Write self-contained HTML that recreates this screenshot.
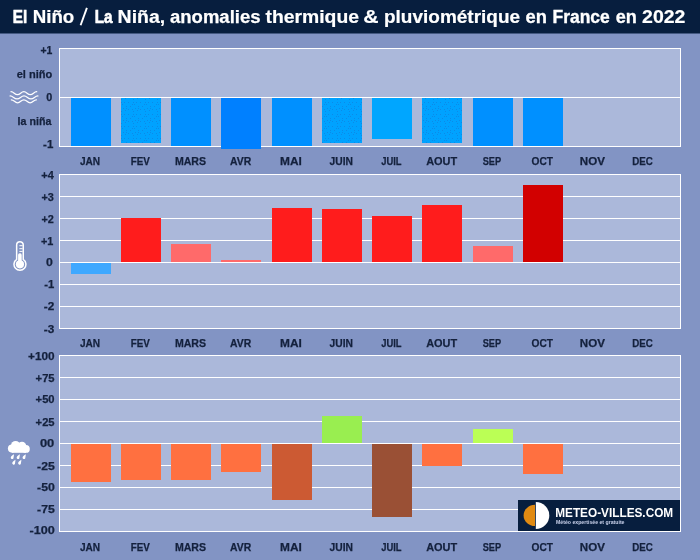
<!DOCTYPE html><html><head><meta charset="utf-8"><title>El Niño / La Niña 2022</title>
<style>html,body{margin:0;padding:0;background:#8294c4;}svg{display:block;will-change:transform;}text{font-family:"Liberation Sans", sans-serif;font-weight:bold;}.l{stroke:#14213d;stroke-width:0.25px;}</style></head><body>
<svg width="700" height="560" viewBox="0 0 700 560">
<defs><pattern id="dots" width="12" height="12" patternUnits="userSpaceOnUse"><rect width="12" height="12" fill="#00a2ff"/><rect x="5" y="2" width="1" height="1" fill="#0c8ae8"/><rect x="6" y="10" width="1" height="1" fill="#0c8ae8"/><rect x="0" y="1" width="1" height="1" fill="#0c8ae8"/><rect x="8" y="1" width="1" height="1" fill="#0c8ae8"/><rect x="0" y="8" width="1" height="1" fill="#0c8ae8"/><rect x="3" y="0" width="1" height="1" fill="#0c8ae8"/><rect x="1" y="6" width="1" height="1" fill="#0c8ae8"/><rect x="8" y="6" width="1" height="1" fill="#0c8ae8"/><rect x="1" y="3" width="1" height="1" fill="#0c8ae8"/><rect x="10" y="10" width="1" height="1" fill="#0c8ae8"/><rect x="6" y="0" width="1" height="1" fill="#0c8ae8"/><rect x="4" y="6" width="1" height="1" fill="#0c8ae8"/><rect x="2" y="8" width="1" height="1" fill="#0c8ae8"/></pattern></defs>
<rect width="700" height="560" fill="#8294c4"/>
<rect x="0" y="0" width="700" height="33.5" fill="#071e3e"/>
<line x1="80.6" y1="25.3" x2="86.9" y2="7.9" stroke="#fff" stroke-width="1.9"/>
<text x="12.80" y="22.7" font-size="18.9" fill="#fff" stroke="#fff" stroke-width="0.66" textLength="14.40" lengthAdjust="spacingAndGlyphs">El</text>
<text x="32.70" y="22.7" font-size="18.9" fill="#fff" stroke="#fff" stroke-width="0.22" textLength="41.58" lengthAdjust="spacingAndGlyphs">Niño</text>
<text x="94.69" y="22.7" font-size="18.9" fill="#fff" stroke="#fff" stroke-width="0.67" textLength="17.78" lengthAdjust="spacingAndGlyphs">La</text>
<text x="117.61" y="22.7" font-size="18.9" fill="#fff" stroke="#fff" stroke-width="0.20" textLength="47.52" lengthAdjust="spacingAndGlyphs">Niña,</text>
<text x="170.00" y="22.7" font-size="18.9" fill="#fff" stroke="#fff" stroke-width="0.25" textLength="90.51" lengthAdjust="spacingAndGlyphs">anomalies</text>
<text x="265.49" y="22.7" font-size="18.9" fill="#fff" stroke="#fff" stroke-width="0.20" textLength="93.52" lengthAdjust="spacingAndGlyphs">thermique</text>
<text x="363.21" y="22.7" font-size="18.9" fill="#fff" stroke="#fff" stroke-width="0.20" textLength="15.34" lengthAdjust="spacingAndGlyphs">&amp;</text>
<text x="383.98" y="22.7" font-size="18.9" fill="#fff" stroke="#fff" stroke-width="0.20" textLength="136.13" lengthAdjust="spacingAndGlyphs">pluviométrique</text>
<text x="525.48" y="22.7" font-size="18.9" fill="#fff" stroke="#fff" stroke-width="0.27" textLength="21.40" lengthAdjust="spacingAndGlyphs">en</text>
<text x="552.47" y="22.7" font-size="18.9" fill="#fff" stroke="#fff" stroke-width="0.38" textLength="57.30" lengthAdjust="spacingAndGlyphs">France</text>
<text x="615.70" y="22.7" font-size="18.9" fill="#fff" stroke="#fff" stroke-width="0.30" textLength="21.11" lengthAdjust="spacingAndGlyphs">en</text>
<text x="642.08" y="22.7" font-size="18.9" fill="#fff" stroke="#fff" stroke-width="0.20" textLength="43.33" lengthAdjust="spacingAndGlyphs">2022</text>
<rect x="59.5" y="48.5" width="621" height="98.0" fill="#abb8da" stroke="#fff" stroke-width="1"/>
<rect x="60" y="97" width="620" height="1" fill="#fff"/>
<rect x="71" y="98" width="40" height="48" fill="#0090ff"/>
<rect x="121" y="98" width="40" height="45" fill="url(#dots)"/>
<rect x="171" y="98" width="40" height="48" fill="#0090ff"/>
<rect x="221" y="98" width="40" height="51" fill="#0080ff"/>
<rect x="272" y="98" width="40" height="48" fill="#0090ff"/>
<rect x="322" y="98" width="40" height="45" fill="url(#dots)"/>
<rect x="372" y="98" width="40" height="41" fill="#00a6ff"/>
<rect x="422" y="98" width="40" height="45" fill="url(#dots)"/>
<rect x="473" y="98" width="40" height="48" fill="#0090ff"/>
<rect x="523" y="98" width="40" height="48" fill="#0090ff"/>
<text class="l" x="90.0" y="164.8" font-size="11" fill="#14213d" text-anchor="middle" textLength="20.2" lengthAdjust="spacingAndGlyphs">JAN</text>
<text class="l" x="140.2" y="164.8" font-size="11" fill="#14213d" text-anchor="middle" textLength="19.1" lengthAdjust="spacingAndGlyphs">FEV</text>
<text class="l" x="190.5" y="164.8" font-size="11" fill="#14213d" text-anchor="middle" textLength="31.2" lengthAdjust="spacingAndGlyphs">MARS</text>
<text class="l" x="240.7" y="164.8" font-size="11" fill="#14213d" text-anchor="middle" textLength="21.2" lengthAdjust="spacingAndGlyphs">AVR</text>
<text class="l" x="291.0" y="164.8" font-size="11" fill="#14213d" text-anchor="middle" textLength="21.8" lengthAdjust="spacingAndGlyphs">MAI</text>
<text class="l" x="341.2" y="164.8" font-size="11" fill="#14213d" text-anchor="middle" textLength="23.4" lengthAdjust="spacingAndGlyphs">JUIN</text>
<text class="l" x="391.4" y="164.8" font-size="11" fill="#14213d" text-anchor="middle" textLength="20.4" lengthAdjust="spacingAndGlyphs">JUIL</text>
<text class="l" x="441.7" y="164.8" font-size="11" fill="#14213d" text-anchor="middle" textLength="31.0" lengthAdjust="spacingAndGlyphs">AOUT</text>
<text class="l" x="491.9" y="164.8" font-size="11" fill="#14213d" text-anchor="middle" textLength="18.4" lengthAdjust="spacingAndGlyphs">SEP</text>
<text class="l" x="542.2" y="164.8" font-size="11" fill="#14213d" text-anchor="middle" textLength="21.4" lengthAdjust="spacingAndGlyphs">OCT</text>
<text class="l" x="592.4" y="164.8" font-size="11" fill="#14213d" text-anchor="middle" textLength="25.1" lengthAdjust="spacingAndGlyphs">NOV</text>
<text class="l" x="642.6" y="164.8" font-size="11" fill="#14213d" text-anchor="middle" textLength="20.6" lengthAdjust="spacingAndGlyphs">DEC</text>
<text class="l" x="52.3" y="53.7" font-size="11" fill="#14213d" text-anchor="end" textLength="11.9" lengthAdjust="spacingAndGlyphs">+1</text>
<text class="l" x="52.3" y="77.7" font-size="11" fill="#14213d" text-anchor="end" textLength="35.6" lengthAdjust="spacingAndGlyphs">el niño</text>
<text class="l" x="52.3" y="101.0" font-size="11" fill="#14213d" text-anchor="end" textLength="6.0" lengthAdjust="spacingAndGlyphs">0</text>
<text class="l" x="51.4" y="125.1" font-size="11" fill="#14213d" text-anchor="end" textLength="33.8" lengthAdjust="spacingAndGlyphs">la niña</text>
<text class="l" x="53.3" y="148.0" font-size="11" fill="#14213d" text-anchor="end" textLength="10.2" lengthAdjust="spacingAndGlyphs">-1</text>
<rect x="59.5" y="174.5" width="621" height="154.0" fill="#abb8da" stroke="#fff" stroke-width="1"/>
<rect x="60" y="196" width="620" height="1" fill="#fff"/>
<rect x="60" y="218" width="620" height="1" fill="#fff"/>
<rect x="60" y="240" width="620" height="1" fill="#fff"/>
<rect x="60" y="262" width="620" height="1" fill="#fff"/>
<rect x="60" y="284" width="620" height="1" fill="#fff"/>
<rect x="60" y="306" width="620" height="1" fill="#fff"/>
<rect x="71" y="263" width="40" height="11" fill="#3ea8ff"/>
<rect x="121" y="218" width="40" height="44" fill="#ff1c1c"/>
<rect x="171" y="244" width="40" height="18" fill="#ff6a6a"/>
<rect x="221" y="260" width="40" height="2" fill="#ff6a6a"/>
<rect x="272" y="208" width="40" height="54" fill="#ff1c1c"/>
<rect x="322" y="209" width="40" height="53" fill="#ff1c1c"/>
<rect x="372" y="216" width="40" height="46" fill="#ff1c1c"/>
<rect x="422" y="205" width="40" height="57" fill="#ff1c1c"/>
<rect x="473" y="246" width="40" height="16" fill="#ff6a6a"/>
<rect x="523" y="185" width="40" height="77" fill="#d20000"/>
<text class="l" x="90.0" y="346.8" font-size="11" fill="#14213d" text-anchor="middle" textLength="20.2" lengthAdjust="spacingAndGlyphs">JAN</text>
<text class="l" x="140.2" y="346.8" font-size="11" fill="#14213d" text-anchor="middle" textLength="19.1" lengthAdjust="spacingAndGlyphs">FEV</text>
<text class="l" x="190.5" y="346.8" font-size="11" fill="#14213d" text-anchor="middle" textLength="31.2" lengthAdjust="spacingAndGlyphs">MARS</text>
<text class="l" x="240.7" y="346.8" font-size="11" fill="#14213d" text-anchor="middle" textLength="21.2" lengthAdjust="spacingAndGlyphs">AVR</text>
<text class="l" x="291.0" y="346.8" font-size="11" fill="#14213d" text-anchor="middle" textLength="21.8" lengthAdjust="spacingAndGlyphs">MAI</text>
<text class="l" x="341.2" y="346.8" font-size="11" fill="#14213d" text-anchor="middle" textLength="23.4" lengthAdjust="spacingAndGlyphs">JUIN</text>
<text class="l" x="391.4" y="346.8" font-size="11" fill="#14213d" text-anchor="middle" textLength="20.4" lengthAdjust="spacingAndGlyphs">JUIL</text>
<text class="l" x="441.7" y="346.8" font-size="11" fill="#14213d" text-anchor="middle" textLength="31.0" lengthAdjust="spacingAndGlyphs">AOUT</text>
<text class="l" x="491.9" y="346.8" font-size="11" fill="#14213d" text-anchor="middle" textLength="18.4" lengthAdjust="spacingAndGlyphs">SEP</text>
<text class="l" x="542.2" y="346.8" font-size="11" fill="#14213d" text-anchor="middle" textLength="21.4" lengthAdjust="spacingAndGlyphs">OCT</text>
<text class="l" x="592.4" y="346.8" font-size="11" fill="#14213d" text-anchor="middle" textLength="25.1" lengthAdjust="spacingAndGlyphs">NOV</text>
<text class="l" x="642.6" y="346.8" font-size="11" fill="#14213d" text-anchor="middle" textLength="20.6" lengthAdjust="spacingAndGlyphs">DEC</text>
<text class="l" x="53.8" y="179.2" font-size="11" fill="#14213d" text-anchor="end" textLength="12.5" lengthAdjust="spacingAndGlyphs">+4</text>
<text class="l" x="53.8" y="200.8" font-size="11" fill="#14213d" text-anchor="end" textLength="12.4" lengthAdjust="spacingAndGlyphs">+3</text>
<text class="l" x="53.8" y="222.8" font-size="11" fill="#14213d" text-anchor="end" textLength="12.4" lengthAdjust="spacingAndGlyphs">+2</text>
<text class="l" x="53.3" y="244.5" font-size="11" fill="#14213d" text-anchor="end" textLength="12.4" lengthAdjust="spacingAndGlyphs">+1</text>
<text class="l" x="52.7" y="266.1" font-size="11" fill="#14213d" text-anchor="end" textLength="6.8" lengthAdjust="spacingAndGlyphs">0</text>
<text class="l" x="54.3" y="288.3" font-size="11" fill="#14213d" text-anchor="end" textLength="10.0" lengthAdjust="spacingAndGlyphs">-1</text>
<text class="l" x="54.3" y="310.3" font-size="11" fill="#14213d" text-anchor="end" textLength="10.5" lengthAdjust="spacingAndGlyphs">-2</text>
<text class="l" x="54.3" y="332.5" font-size="11" fill="#14213d" text-anchor="end" textLength="10.5" lengthAdjust="spacingAndGlyphs">-3</text>
<rect x="59.5" y="355.5" width="621" height="176.0" fill="#abb8da" stroke="#fff" stroke-width="1"/>
<rect x="60" y="377" width="620" height="1" fill="#fff"/>
<rect x="60" y="399" width="620" height="1" fill="#fff"/>
<rect x="60" y="421" width="620" height="1" fill="#fff"/>
<rect x="60" y="443" width="620" height="1" fill="#fff"/>
<rect x="60" y="465" width="620" height="1" fill="#fff"/>
<rect x="60" y="487" width="620" height="1" fill="#fff"/>
<rect x="60" y="509" width="620" height="1" fill="#fff"/>
<rect x="71" y="444" width="40" height="38" fill="#ff7040"/>
<rect x="121" y="444" width="40" height="36" fill="#ff7040"/>
<rect x="171" y="444" width="40" height="36" fill="#ff7040"/>
<rect x="221" y="444" width="40" height="28" fill="#ff7040"/>
<rect x="272" y="444" width="40" height="56" fill="#cc5a33"/>
<rect x="322" y="416" width="40" height="27" fill="#99ee50"/>
<rect x="372" y="444" width="40" height="73" fill="#9a5035"/>
<rect x="422" y="444" width="40" height="22" fill="#ff7040"/>
<rect x="473" y="429" width="40" height="14" fill="#bbff55"/>
<rect x="523" y="444" width="40" height="30" fill="#ff7040"/>
<text class="l" x="90.0" y="550.8" font-size="11" fill="#14213d" text-anchor="middle" textLength="20.2" lengthAdjust="spacingAndGlyphs">JAN</text>
<text class="l" x="140.2" y="550.8" font-size="11" fill="#14213d" text-anchor="middle" textLength="19.1" lengthAdjust="spacingAndGlyphs">FEV</text>
<text class="l" x="190.5" y="550.8" font-size="11" fill="#14213d" text-anchor="middle" textLength="31.2" lengthAdjust="spacingAndGlyphs">MARS</text>
<text class="l" x="240.7" y="550.8" font-size="11" fill="#14213d" text-anchor="middle" textLength="21.2" lengthAdjust="spacingAndGlyphs">AVR</text>
<text class="l" x="291.0" y="550.8" font-size="11" fill="#14213d" text-anchor="middle" textLength="21.8" lengthAdjust="spacingAndGlyphs">MAI</text>
<text class="l" x="341.2" y="550.8" font-size="11" fill="#14213d" text-anchor="middle" textLength="23.4" lengthAdjust="spacingAndGlyphs">JUIN</text>
<text class="l" x="391.4" y="550.8" font-size="11" fill="#14213d" text-anchor="middle" textLength="20.4" lengthAdjust="spacingAndGlyphs">JUIL</text>
<text class="l" x="441.7" y="550.8" font-size="11" fill="#14213d" text-anchor="middle" textLength="31.0" lengthAdjust="spacingAndGlyphs">AOUT</text>
<text class="l" x="491.9" y="550.8" font-size="11" fill="#14213d" text-anchor="middle" textLength="18.4" lengthAdjust="spacingAndGlyphs">SEP</text>
<text class="l" x="542.2" y="550.8" font-size="11" fill="#14213d" text-anchor="middle" textLength="21.4" lengthAdjust="spacingAndGlyphs">OCT</text>
<text class="l" x="592.4" y="550.8" font-size="11" fill="#14213d" text-anchor="middle" textLength="25.1" lengthAdjust="spacingAndGlyphs">NOV</text>
<text class="l" x="642.6" y="550.8" font-size="11" fill="#14213d" text-anchor="middle" textLength="20.6" lengthAdjust="spacingAndGlyphs">DEC</text>
<text class="l" x="54.6" y="360.4" font-size="11" fill="#14213d" text-anchor="end" textLength="26.6" lengthAdjust="spacingAndGlyphs">+100</text>
<text class="l" x="54.6" y="382.4" font-size="11" fill="#14213d" text-anchor="end" textLength="19.0" lengthAdjust="spacingAndGlyphs">+75</text>
<text class="l" x="54.6" y="403.4" font-size="11" fill="#14213d" text-anchor="end" textLength="19.0" lengthAdjust="spacingAndGlyphs">+50</text>
<text class="l" x="54.6" y="426.1" font-size="11" fill="#14213d" text-anchor="end" textLength="19.0" lengthAdjust="spacingAndGlyphs">+25</text>
<text class="l" x="54.3" y="447.3" font-size="11" fill="#14213d" text-anchor="end" textLength="14.4" lengthAdjust="spacingAndGlyphs">00</text>
<text class="l" x="54.8" y="469.5" font-size="11" fill="#14213d" text-anchor="end" textLength="17.7" lengthAdjust="spacingAndGlyphs">-25</text>
<text class="l" x="54.8" y="491.3" font-size="11" fill="#14213d" text-anchor="end" textLength="17.7" lengthAdjust="spacingAndGlyphs">-50</text>
<text class="l" x="54.8" y="513.4" font-size="11" fill="#14213d" text-anchor="end" textLength="17.7" lengthAdjust="spacingAndGlyphs">-75</text>
<text class="l" x="54.8" y="534.3" font-size="11" fill="#14213d" text-anchor="end" textLength="25.2" lengthAdjust="spacingAndGlyphs">-100</text>
<rect x="518" y="500" width="162" height="31" fill="#071e3e"/>
<path d="M535,504.8 A11.4,10.6 0 0 0 535,526 Z" fill="#e08a12"/>
<path d="M535.8,502 A13.5,13.5 0 0 1 535.8,529 Z" fill="#fff"/>
<text x="555.2" y="517" font-size="12.8" fill="#fff" textLength="118" lengthAdjust="spacingAndGlyphs">METEO-VILLES.COM</text>
<text x="556" y="523.8" font-size="5.4" fill="#c8d0ea" textLength="68.5" lengthAdjust="spacingAndGlyphs">Météo expertisée et gratuite</text>
<path d="M11.00,91.70 C13.89,91.70 14.53,94.70 17.43,94.70 C20.32,94.70 20.96,91.70 23.85,91.70 C26.74,91.70 27.38,94.70 30.28,94.70 C33.17,94.70 33.81,91.70 36.70,91.70" fill="none" stroke="#fff" stroke-width="1.25" stroke-linecap="round"/>
<path d="M10.10,95.90 C13.23,95.90 13.92,98.90 17.05,98.90 C20.18,98.90 20.87,95.90 24.00,95.90 C27.13,95.90 27.82,98.90 30.95,98.90 C34.08,98.90 34.77,95.90 37.90,95.90" fill="none" stroke="#fff" stroke-width="1.25" stroke-linecap="round"/>
<path d="M11.30,99.80 C14.12,99.80 14.75,102.80 17.57,102.80 C20.40,102.80 21.03,99.80 23.85,99.80 C26.67,99.80 27.30,102.80 30.12,102.80 C32.95,102.80 33.58,99.80 36.40,99.80" fill="none" stroke="#fff" stroke-width="1.25" stroke-linecap="round"/>
<path d="M16.65,259.4 V244.95 A3.3,3.3 0 0 1 23.25,244.95 V259.4 A5.95,5.95 0 1 1 16.65,259.4 Z" fill="none" stroke="#fff" stroke-width="1.5"/>
<circle cx="19.95" cy="264.3" r="4.1" fill="#fff"/>
<rect x="18.1" y="253.3" width="3.6" height="10" rx="1.6" fill="#fff"/>
<g stroke="#fff" stroke-width="1"><line x1="19.4" y1="245.7" x2="22.6" y2="245.7"/><line x1="19.4" y1="248.7" x2="22.6" y2="248.7"/><line x1="19.4" y1="251.4" x2="22.6" y2="251.4"/></g>
<g fill="#fff"><circle cx="12" cy="448.6" r="4.1"/><circle cx="15.6" cy="445.5" r="4.6"/><circle cx="22" cy="446.1" r="4.3"/><circle cx="25.9" cy="448.9" r="3.9"/><rect x="12" y="446" width="14" height="6.8"/></g>
<path d="M14.00,454.20 C13.90,455.40 13.70,457.20 13.40,458.40 A1.45,1.45 0 0 1 10.80,457.20 C11.00,456.20 12.40,455.00 14.00,454.20 Z" fill="#fff"/>
<path d="M19.90,454.20 C19.80,455.40 19.60,457.20 19.30,458.40 A1.45,1.45 0 0 1 16.70,457.20 C16.90,456.20 18.30,455.00 19.90,454.20 Z" fill="#fff"/>
<path d="M25.80,454.20 C25.70,455.40 25.50,457.20 25.20,458.40 A1.45,1.45 0 0 1 22.60,457.20 C22.80,456.20 24.20,455.00 25.80,454.20 Z" fill="#fff"/>
<path d="M15.50,459.80 C15.40,461.00 15.20,462.80 14.90,464.00 A1.45,1.45 0 0 1 12.30,462.80 C12.50,461.80 13.90,460.60 15.50,459.80 Z" fill="#fff"/>
<path d="M21.40,459.80 C21.30,461.00 21.10,462.80 20.80,464.00 A1.45,1.45 0 0 1 18.20,462.80 C18.40,461.80 19.80,460.60 21.40,459.80 Z" fill="#fff"/>
</svg></body></html>
